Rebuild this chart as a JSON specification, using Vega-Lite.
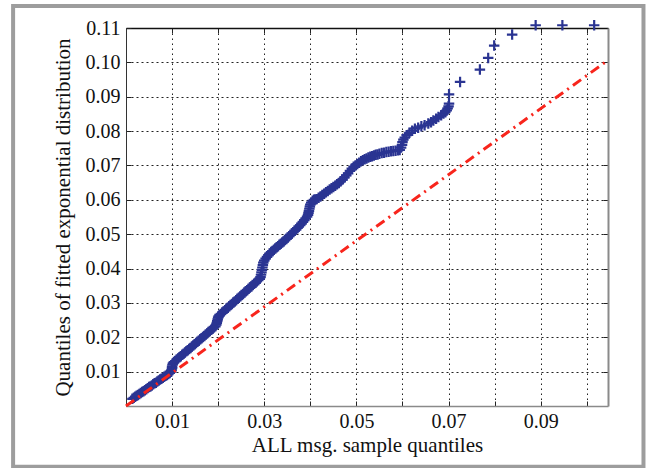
{
  "$schema": "https://vega.github.io/schema/vega-lite/v6.json",
  "width": 482,
  "height": 378,
  "autosize": {"type": "none"},
  "padding": {"left": 126, "top": 28, "right": 38, "bottom": 62},
  "background": "white",
  "config": {
    "view": {"stroke": null},
    "font": "Liberation Serif",
    "axis": {
      "labelFont": "Liberation Serif",
      "titleFont": "Liberation Serif",
      "labelFontSize": 20,
      "titleFontSize": 21,
      "titleFontWeight": "normal",
      "labelColor": "#111",
      "titleColor": "#111",
      "tickColor": "#222",
      "tickWidth": 1
    }
  },
  "datasets": {
    "qq": [
      {"x":0.0014,"y":0.0021},{"x":0.0017,"y":0.0024},{"x":0.0020,"y":0.0027},{"x":0.0023,"y":0.0030},{"x":0.0026,"y":0.0032},{"x":0.0029,"y":0.0035},{"x":0.0032,"y":0.0038},{"x":0.0035,"y":0.0041},{"x":0.0038,"y":0.0043},{"x":0.0041,"y":0.0046},{"x":0.0044,"y":0.0049},{"x":0.0047,"y":0.0052},{"x":0.0050,"y":0.0055},{"x":0.0053,"y":0.0057},{"x":0.0056,"y":0.0060},{"x":0.0059,"y":0.0063},{"x":0.0062,"y":0.0066},{"x":0.0065,"y":0.0068},{"x":0.0068,"y":0.0071},{"x":0.0071,"y":0.0074},{"x":0.0074,"y":0.0077},{"x":0.0077,"y":0.0079},{"x":0.0080,"y":0.0082},{"x":0.0083,"y":0.0085},{"x":0.0086,"y":0.0088},{"x":0.0089,"y":0.0090},{"x":0.0092,"y":0.0093},{"x":0.0095,"y":0.0096},
      {"x":0.0098,"y":0.0100},{"x":0.0099,"y":0.0105},{"x":0.0100,"y":0.0110},{"x":0.0100,"y":0.0115},{"x":0.0101,"y":0.0120},{"x":0.0102,"y":0.0124},{"x":0.0104,"y":0.0128},{"x":0.0107,"y":0.0131},
      {"x":0.0110,"y":0.0135},{"x":0.0113,"y":0.0138},{"x":0.0116,"y":0.0142},{"x":0.0119,"y":0.0145},{"x":0.0122,"y":0.0149},{"x":0.0125,"y":0.0152},{"x":0.0128,"y":0.0156},{"x":0.0131,"y":0.0159},{"x":0.0134,"y":0.0162},{"x":0.0137,"y":0.0166},{"x":0.0140,"y":0.0169},{"x":0.0143,"y":0.0173},{"x":0.0146,"y":0.0176},{"x":0.0149,"y":0.0180},{"x":0.0152,"y":0.0183},{"x":0.0155,"y":0.0187},{"x":0.0158,"y":0.0190},{"x":0.0161,"y":0.0194},{"x":0.0164,"y":0.0197},{"x":0.0167,"y":0.0201},{"x":0.0170,"y":0.0204},{"x":0.0173,"y":0.0208},{"x":0.0176,"y":0.0211},{"x":0.0179,"y":0.0215},{"x":0.0182,"y":0.0218},{"x":0.0185,"y":0.0222},{"x":0.0188,"y":0.0225},{"x":0.0191,"y":0.0229},{"x":0.0194,"y":0.0232},
      {"x":0.0196,"y":0.0237},{"x":0.0197,"y":0.0242},{"x":0.0198,"y":0.0247},{"x":0.0199,"y":0.0252},{"x":0.0200,"y":0.0257},{"x":0.0201,"y":0.0261},{"x":0.0203,"y":0.0265},{"x":0.0206,"y":0.0268},
      {"x":0.0209,"y":0.0272},{"x":0.0212,"y":0.0275},{"x":0.0215,"y":0.0279},{"x":0.0218,"y":0.0283},{"x":0.0221,"y":0.0286},{"x":0.0224,"y":0.0290},{"x":0.0227,"y":0.0294},{"x":0.0230,"y":0.0297},{"x":0.0233,"y":0.0301},{"x":0.0236,"y":0.0304},{"x":0.0239,"y":0.0308},{"x":0.0242,"y":0.0312},{"x":0.0245,"y":0.0315},{"x":0.0248,"y":0.0319},{"x":0.0251,"y":0.0323},{"x":0.0254,"y":0.0326},{"x":0.0257,"y":0.0330},{"x":0.0260,"y":0.0334},{"x":0.0263,"y":0.0337},{"x":0.0266,"y":0.0341},{"x":0.0269,"y":0.0345},{"x":0.0272,"y":0.0348},{"x":0.0275,"y":0.0352},{"x":0.0278,"y":0.0356},{"x":0.0281,"y":0.0359},{"x":0.0284,"y":0.0363},{"x":0.0287,"y":0.0366},{"x":0.0290,"y":0.0370},
      {"x":0.0292,"y":0.0375},{"x":0.0293,"y":0.0382},{"x":0.0294,"y":0.0389},{"x":0.0295,"y":0.0396},{"x":0.0296,"y":0.0403},{"x":0.0297,"y":0.0410},{"x":0.0298,"y":0.0417},{"x":0.0300,"y":0.0423},{"x":0.0303,"y":0.0429},{"x":0.0306,"y":0.0434},{"x":0.0309,"y":0.0439},{"x":0.0312,"y":0.0444},
      {"x":0.0315,"y":0.0448},{"x":0.0318,"y":0.0451},{"x":0.0321,"y":0.0455},{"x":0.0324,"y":0.0458},{"x":0.0327,"y":0.0462},{"x":0.0330,"y":0.0465},{"x":0.0333,"y":0.0469},{"x":0.0336,"y":0.0472},{"x":0.0339,"y":0.0476},{"x":0.0342,"y":0.0479},{"x":0.0345,"y":0.0483},{"x":0.0348,"y":0.0486},{"x":0.0351,"y":0.0490},{"x":0.0354,"y":0.0494},{"x":0.0357,"y":0.0498},{"x":0.0360,"y":0.0502},{"x":0.0363,"y":0.0506},{"x":0.0366,"y":0.0510},{"x":0.0369,"y":0.0514},{"x":0.0372,"y":0.0518},{"x":0.0375,"y":0.0522},{"x":0.0378,"y":0.0526},{"x":0.0381,"y":0.0531},{"x":0.0384,"y":0.0536},{"x":0.0387,"y":0.0541},{"x":0.0390,"y":0.0546},{"x":0.0393,"y":0.0551},{"x":0.0395,"y":0.0556},
      {"x":0.0396,"y":0.0562},{"x":0.0397,"y":0.0568},{"x":0.0398,"y":0.0574},{"x":0.0399,"y":0.0580},{"x":0.0400,"y":0.0586},{"x":0.0402,"y":0.0592},{"x":0.0405,"y":0.0597},{"x":0.0408,"y":0.0600},{"x":0.0411,"y":0.0601},
      {"x":0.0414,"y":0.0602},{"x":0.0418,"y":0.0606},{"x":0.0422,"y":0.0610},{"x":0.0426,"y":0.0614},{"x":0.0430,"y":0.0618},{"x":0.0434,"y":0.0622},{"x":0.0438,"y":0.0626},{"x":0.0442,"y":0.0630},{"x":0.0446,"y":0.0634},{"x":0.0450,"y":0.0637},{"x":0.0454,"y":0.0641},{"x":0.0458,"y":0.0645},{"x":0.0462,"y":0.0649},{"x":0.0466,"y":0.0654},{"x":0.0470,"y":0.0659},{"x":0.0474,"y":0.0665},{"x":0.0478,"y":0.0671},{"x":0.0482,"y":0.0677},{"x":0.0486,"y":0.0684},{"x":0.0490,"y":0.0691},{"x":0.0494,"y":0.0696},{"x":0.0498,"y":0.0700},{"x":0.0502,"y":0.0704},{"x":0.0506,"y":0.0708},{"x":0.0510,"y":0.0712},{"x":0.0514,"y":0.0715},{"x":0.0518,"y":0.0718},{"x":0.0522,"y":0.0720},{"x":0.0526,"y":0.0723},{"x":0.0530,"y":0.0725},{"x":0.0534,"y":0.0727},{"x":0.0538,"y":0.0729},{"x":0.0542,"y":0.0731},{"x":0.0546,"y":0.0732},{"x":0.0550,"y":0.0734},{"x":0.0555,"y":0.0736},{"x":0.0560,"y":0.0737},{"x":0.0565,"y":0.0739},{"x":0.0570,"y":0.0740},{"x":0.0575,"y":0.0741},{"x":0.0580,"y":0.0742},{"x":0.0585,"y":0.0743},{"x":0.0590,"y":0.0744},{"x":0.0594,"y":0.0745},
      {"x":0.0597,"y":0.0752},{"x":0.0599,"y":0.0760},{"x":0.0600,"y":0.0768},{"x":0.0602,"y":0.0775},{"x":0.0605,"y":0.0781},
      {"x":0.0609,"y":0.0788},{"x":0.0615,"y":0.0795},{"x":0.0621,"y":0.0801},{"x":0.0627,"y":0.0807},{"x":0.0634,"y":0.0810},{"x":0.0641,"y":0.0814},{"x":0.0648,"y":0.0817},{"x":0.0656,"y":0.0822},{"x":0.0662,"y":0.0826},{"x":0.0667,"y":0.0831},{"x":0.0673,"y":0.0836},{"x":0.0678,"y":0.0841},{"x":0.0684,"y":0.0846},{"x":0.0689,"y":0.0851},{"x":0.0693,"y":0.0855},{"x":0.0696,"y":0.0860},{"x":0.0698,"y":0.0866},{"x":0.0700,"y":0.0872},{"x":0.0701,"y":0.0880},{"x":0.0701,"y":0.0907},
      {"x":0.0725,"y":0.0943},{"x":0.0768,"y":0.0979},{"x":0.0786,"y":0.1013},{"x":0.0799,"y":0.1049},{"x":0.0838,"y":0.1081},{"x":0.0889,"y":0.1108},{"x":0.0947,"y":0.1108},{"x":0.1016,"y":0.1108}
    ],
    "ref": [
      {"x": 0, "y": 0},
      {"x": 0.1046, "y": 0.1006}
    ]
  },
  "layer": [
    {
      "data": {"values": [{}]},
      "mark": {"type": "rect", "fillOpacity": 0, "stroke": "#9d9d9d", "strokeWidth": 4, "clip": false},
      "encoding": {
        "x": {"datum": -0.0245, "type": "quantitative", "scale": {"domain": [0, 0.1046], "nice": false, "zero": false}, "axis": null},
        "x2": {"datum": 0.1123},
        "y": {"datum": 0.1164, "type": "quantitative", "scale": {"domain": [0, 0.11], "nice": false, "zero": false}, "axis": null},
        "y2": {"datum": -0.0177}
      }
    },
    {
      "data": {"name": "qq"},
      "mark": {"type": "point", "shape": "M-1,0H1M0,-1V1", "filled": false, "stroke": "#2a3492", "strokeWidth": 2.2, "size": 110, "opacity": 1, "clip": false},
      "encoding": {
        "x": {
          "field": "x", "type": "quantitative",
          "scale": {"domain": [0, 0.1046], "nice": false, "zero": false},
          "axis": {
            "orient": "bottom",
            "title": "ALL msg. sample quantiles",
            "values": [0.01, 0.02, 0.03, 0.04, 0.05, 0.06, 0.07, 0.08, 0.09, 0.10],
            "labelExpr": "round(datum.value * 100) % 2 == 1 ? format(datum.value, '.2f') : ''",
            "grid": true, "gridColor": "#222", "gridDash": [1.5, 3.5], "gridWidth": 1,
            "tickSize": -5, "labelPadding": 10, "titlePadding": 3,
            "domainColor": "#8a8a8a", "domainWidth": 1.5
          }
        },
        "y": {
          "field": "y", "type": "quantitative",
          "scale": {"domain": [0, 0.11], "nice": false, "zero": false},
          "axis": {
            "orient": "left",
            "title": "Quantiles of fitted exponential distribution",
            "values": [0.01, 0.02, 0.03, 0.04, 0.05, 0.06, 0.07, 0.08, 0.09, 0.10, 0.11],
            "format": ".2f",
            "grid": true, "gridColor": "#222", "gridDash": [2, 3], "gridWidth": 1,
            "tickSize": -5, "labelPadding": 11, "titlePadding": 12,
            "domainColor": "#333", "domainWidth": 1
          }
        }
      }
    },
    {
      "data": {"name": "ref"},
      "mark": {"type": "line", "color": "#f8251c", "strokeWidth": 3, "strokeDash": [10, 5, 2, 5]},
      "encoding": {
        "x": {
          "field": "x", "type": "quantitative",
          "scale": {"domain": [0, 0.1046], "nice": false, "zero": false},
          "axis": {"orient": "top", "title": null, "labels": false, "grid": false,
            "values": [0.01, 0.02, 0.03, 0.04, 0.05, 0.06, 0.07, 0.08, 0.09, 0.10],
            "tickSize": -5, "domainColor": "#111", "domainWidth": 1.5}
        },
        "y": {
          "field": "y", "type": "quantitative",
          "scale": {"domain": [0, 0.11], "nice": false, "zero": false},
          "axis": {"orient": "right", "title": null, "labels": false, "grid": false,
            "values": [0.01, 0.02, 0.03, 0.04, 0.05, 0.06, 0.07, 0.08, 0.09, 0.10],
            "tickSize": -5, "domainColor": "#8a8a8a", "domainWidth": 2}
        }
      }
    }
  ],
  "resolve": {"axis": {"x": "independent", "y": "independent"}}
}
